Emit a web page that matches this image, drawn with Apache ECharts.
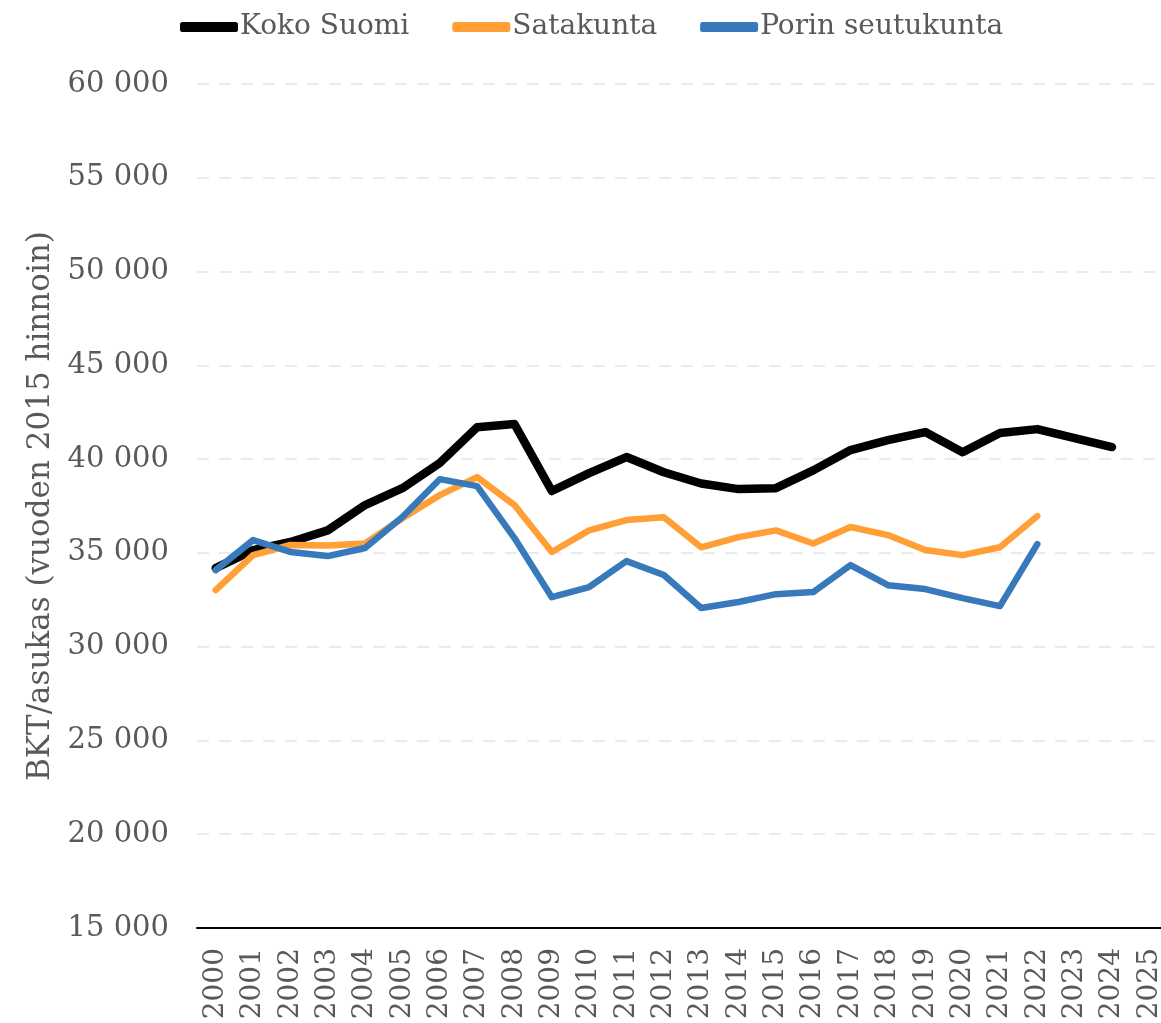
<!DOCTYPE html>
<html>
<head>
<meta charset="utf-8">
<script src="https://cdn.jsdelivr.net/npm/echarts@6/dist/echarts.min.js"></script>
<style>html,body{margin:0;padding:0;background:#fff;overflow:hidden}#c{width:1180px;height:1023px}</style>
</head>
<body>
<div id="c"></div>
<script>
const years = ['2000','2001','2002','2003','2004','2005','2006','2007','2008','2009','2010','2011','2012','2013','2014','2015','2016','2017','2018','2019','2020','2021','2022','2023','2024','2025'];
const kokoSuomi = [34190,35150,35580,36200,37550,38450,39790,41700,41870,38300,39250,40110,39300,38700,38400,38450,39400,40480,41010,41440,40370,41390,41600,41120,40640,null];
const satakunta = [33020,34880,35420,35400,35500,36850,38080,39040,37550,35050,36200,36750,36900,35300,35840,36200,35500,36380,35950,35150,34880,35300,36960,null,null,null];
const porinSeutukunta = [34080,35680,35050,34830,35260,36910,38930,38560,35790,32640,33180,34560,33820,32060,32380,32800,32910,34350,33280,33070,32590,32160,35470,null,null,null];
const yTicks = {min:15000, max:60000, step:5000};

const FONT = 'DejaVu Serif';
const TXT = '#595959';
const chart = echarts.init(document.getElementById('c'));
function mk(name, data, color, w){
  return {name, type:'line', data, showSymbol:false, symbol:'none', smooth:false,
    lineStyle:{color, width:w, cap:'round', join:'round'}, itemStyle:{color}, connectNulls:false};
}
chart.setOption({
  animation:false,
  legend:{left:175, top:8, itemWidth:58, itemHeight:10, itemGap:43, icon:'roundRect',
    textStyle:{fontFamily:FONT, fontSize:28, color:TXT, padding:[0,0,0,-3]},
    data:['Koko Suomi','Satakunta','Porin seutukunta']},
  grid:{left:197, right:12, top:84, bottom:95, containLabel:false},
  xAxis:{type:'category', data:years, boundaryGap:true,
    axisLine:{lineStyle:{color:'#000', width:2}}, axisTick:{show:false},
    axisLabel:{rotate:90, interval:0, margin:20, fontFamily:FONT, fontSize:28, color:TXT}},
  yAxis:{type:'value', min:yTicks.min, max:yTicks.max, interval:yTicks.step,
    name:'BKT/asukas (vuoden 2015 hinnoin)', nameLocation:'middle', nameGap:140,
    nameTextStyle:{fontFamily:FONT, fontSize:31, color:TXT},
    axisLine:{show:false}, axisTick:{show:false},
    axisLabel:{margin:28, fontFamily:FONT, fontSize:29, color:TXT,
      formatter:v=>String(v).replace(/\B(?=(\d{3})+(?!\d))/g,' ')},
    splitLine:{lineStyle:{color:'#ebebeb', width:2, type:[12,10]}}},
  series:[
    mk('Koko Suomi', kokoSuomi, '#000000', 8.5),
    mk('Satakunta', satakunta, '#FF9F36', 6.5),
    mk('Porin seutukunta', porinSeutukunta, '#3779BA', 6.5)
  ]
});
</script>
</body>
</html>
